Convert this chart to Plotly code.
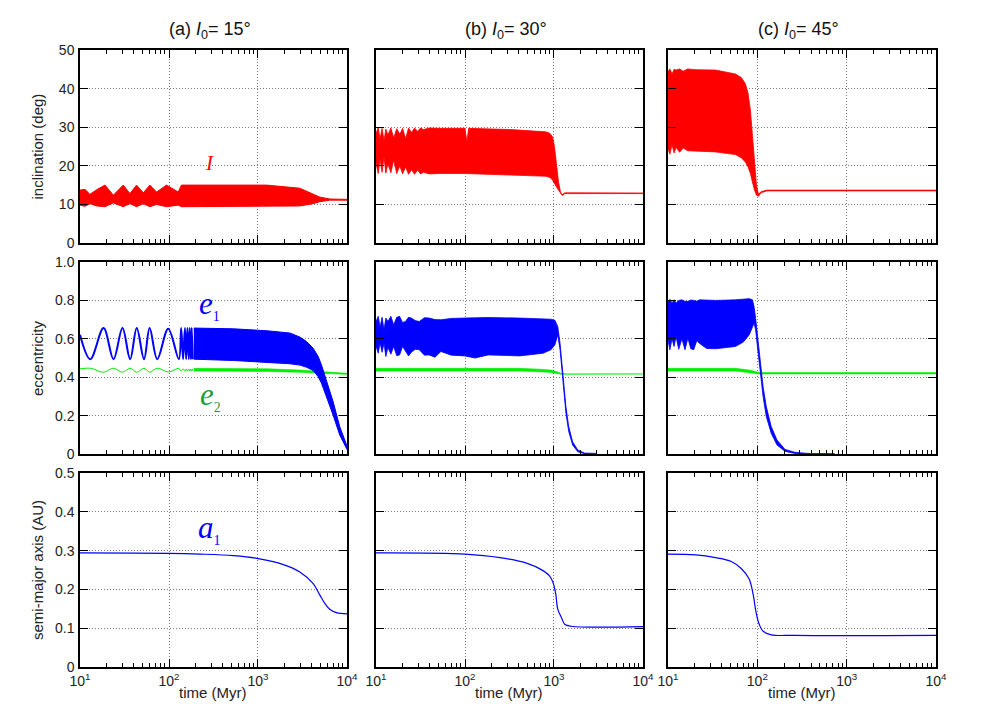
import plotly.graph_objects as go
from plotly.subplots import make_subplots

# ---------------- data ----------------
# Panel (a) I0 = 15 deg
a_inc_t = [10, 11.4, 12.9, 15.4, 19.1, 23.7, 30.6, 36.4, 43.2, 51.4, 61.1, 72.5, 93.9, 127, 138, 313, 1245, 2945, 4160, 4940, 6400, 7600, 10000]
a_inc_hi = [13.7, 13.9, 12.6, 13.8, 15.0, 12.4, 15.0, 12.8, 15.0, 13.0, 15.0, 13.2, 15.0, 13.2, 15.0, 15.0, 15.0, 14.2, 12.8, 11.9, 11.4, 11.35, 11.3]
a_inc_lo = [9.8, 9.5, 10.2, 9.6, 9.4, 10.4, 9.4, 10.2, 9.4, 10.2, 9.4, 10.0, 9.4, 9.8, 9.4, 9.4, 9.5, 9.6, 10.2, 10.7, 11.1, 11.15, 11.1]

a_wave_t = [10, 13.05, 18.4, 23.8, 30.0, 36.6, 43.4, 52.4, 60.6, 73.8, 98.0, 129, 137, 144, 151, 156, 161, 167, 171, 176, 180, 185]
a_e1_wave = [0.621, 0.494, 0.656, 0.494, 0.656, 0.494, 0.656, 0.494, 0.656, 0.494, 0.652, 0.494, 0.656, 0.494, 0.656, 0.494, 0.656, 0.494, 0.656, 0.494, 0.656, 0.494]
a_e2_wave = [0.443, 0.447, 0.426, 0.447, 0.426, 0.447, 0.426, 0.447, 0.426, 0.447, 0.427, 0.446, 0.432, 0.443, 0.432, 0.443, 0.432, 0.443, 0.432, 0.443, 0.432, 0.443]

a_e1_t = [190, 532, 1253, 2286, 2957, 3514, 4170, 4745, 5168, 5877, 6980, 8285, 10000]
a_e1_hi = [0.656, 0.652, 0.642, 0.630, 0.609, 0.586, 0.551, 0.508, 0.464, 0.386, 0.273, 0.143, 0.042]
a_e1_lo = [0.494, 0.487, 0.478, 0.470, 0.463, 0.452, 0.435, 0.403, 0.369, 0.299, 0.203, 0.099, 0.024]

a_e2_t = [190, 1253, 2957, 4745, 6980, 10000]
a_e2_hi = [0.446, 0.444, 0.437, 0.430, 0.423, 0.420]
a_e2_lo = [0.432, 0.430, 0.426, 0.421, 0.417, 0.415]

a_a_t = [10, 95, 225, 532, 970, 1930, 2950, 4170, 4940, 5630, 6400, 7600, 10000]
a_a = [0.294, 0.293, 0.291, 0.287, 0.280, 0.264, 0.245, 0.215, 0.186, 0.164, 0.149, 0.140, 0.137]

# Panel (b) I0 = 30 deg
b_inc_t = [10, 10.6, 11.1, 11.7, 12.3, 12.9, 13.6, 14.7, 15.8, 17.1, 18.5, 19.9, 21.5, 23.2, 25.1, 27.1, 29.3, 31.6, 34.1, 40, 51.3, 99.8, 105, 110, 323, 810, 898, 964, 1014, 1068, 1124, 1183, 1233, 1325, 1497, 10000]
b_inc_hi = [28.4, 29.9, 27.0, 29.7, 26.5, 29.5, 28.0, 29.8, 27.2, 29.6, 28.2, 29.7, 27.0, 29.8, 28.6, 29.8, 28.9, 29.8, 29.4, 29.8, 29.7, 29.7, 26.2, 29.7, 29.4, 28.8, 28.4, 27.5, 24.9, 20.6, 15.8, 13.2, 12.5, 13.0, 13.0, 12.95]
b_inc_lo = [20.6, 18.0, 21.8, 18.3, 22.3, 18.1, 20.5, 18.2, 21.5, 18.0, 20.0, 17.9, 19.7, 17.8, 19.0, 17.8, 18.9, 17.9, 18.3, 17.9, 18.0, 18.0, 18.0, 18.0, 17.6, 17.3, 17.0, 16.3, 15.4, 14.5, 13.7, 12.8, 12.3, 12.8, 12.8, 12.8]

b_e1_t = [10, 10.6, 11.1, 11.7, 12.3, 12.9, 13.6, 14.7, 15.8, 17.1, 18.4, 19.9, 21.4, 23.2, 25, 27.5, 30.6, 35, 39.5, 46, 53.6, 70, 98.6, 130, 182, 410, 755, 925, 1025, 1102, 1170, 1231, 1295, 1362, 1463, 1619, 1848, 2198, 2985]
b_e1_hi = [0.690, 0.717, 0.660, 0.712, 0.647, 0.708, 0.690, 0.717, 0.673, 0.712, 0.717, 0.685, 0.690, 0.712, 0.708, 0.695, 0.690, 0.710, 0.708, 0.700, 0.699, 0.706, 0.708, 0.709, 0.711, 0.708, 0.705, 0.702, 0.696, 0.664, 0.577, 0.473, 0.351, 0.247, 0.143, 0.064, 0.021, 0.005, 0.003]
b_e1_lo = [0.560, 0.525, 0.580, 0.530, 0.577, 0.508, 0.555, 0.520, 0.560, 0.512, 0.516, 0.560, 0.540, 0.511, 0.530, 0.545, 0.543, 0.515, 0.516, 0.504, 0.534, 0.515, 0.511, 0.500, 0.516, 0.511, 0.525, 0.543, 0.569, 0.621, 0.543, 0.438, 0.317, 0.212, 0.117, 0.047, 0.012, 0.002, 0.001]

b_e2_t = [10, 410, 682, 925, 1079, 1194, 1390, 10000]
b_e2_hi = [0.446, 0.446, 0.442, 0.437, 0.429, 0.420, 0.417, 0.417]
b_e2_lo = [0.432, 0.432, 0.428, 0.425, 0.419, 0.416, 0.414, 0.414]

b_a_t = [10, 100, 246, 500, 718, 881, 975, 1050, 1100, 1230, 1320, 1550, 10000]
b_a = [0.294, 0.291, 0.282, 0.267, 0.251, 0.236, 0.218, 0.186, 0.150, 0.124, 0.110, 0.105, 0.104]

# Panel (c) I0 = 45 deg
c_inc_t = [10, 10.5, 11.1, 11.7, 12.3, 13.5, 14.8, 16.6, 20, 34.1, 56.8, 66, 73.4, 78.8, 83.7, 88.1, 92.9, 97.8, 103, 110, 128, 10000]
c_inc_hi = [44.4, 45.1, 43.8, 45.0, 44.8, 45.1, 44.5, 45.1, 44.9, 44.8, 43.8, 42.9, 41.3, 38.8, 34.4, 28.4, 21.5, 15.0, 12.6, 13.3, 13.7, 13.7]
c_inc_lo = [24.5, 23.0, 25.5, 23.3, 24.8, 23.5, 24.6, 23.9, 23.8, 23.6, 22.9, 22.1, 21.0, 19.7, 18.0, 15.8, 13.7, 12.4, 12.1, 13.0, 13.5, 13.5]

c_e1_t = [10, 10.5, 11.1, 11.7, 12.3, 13.2, 14.3, 15.5, 16.7, 18, 19.4, 21, 22.6, 27, 34.1, 56.9, 69.7, 81.3, 88.2, 91.8, 95.7, 99.7, 105, 110, 116, 126, 143, 166, 204, 263, 396, 731]
c_e1_hi = [0.795, 0.805, 0.786, 0.803, 0.786, 0.800, 0.803, 0.795, 0.795, 0.802, 0.800, 0.796, 0.803, 0.800, 0.800, 0.803, 0.805, 0.809, 0.803, 0.769, 0.708, 0.638, 0.543, 0.447, 0.351, 0.247, 0.143, 0.073, 0.024, 0.009, 0.002, 0.001]
c_e1_lo = [0.595, 0.543, 0.600, 0.560, 0.612, 0.545, 0.600, 0.543, 0.603, 0.548, 0.543, 0.590, 0.576, 0.550, 0.548, 0.560, 0.583, 0.621, 0.661, 0.682, 0.647, 0.569, 0.482, 0.386, 0.299, 0.195, 0.108, 0.047, 0.014, 0.003, 0.000, 0.000]

c_e2_t = [10, 56.9, 81.3, 94.7, 105, 10000]
c_e2_hi = [0.446, 0.446, 0.437, 0.428, 0.424, 0.424]
c_e2_lo = [0.432, 0.432, 0.424, 0.419, 0.417, 0.417]

c_a_t = [10, 20.4, 34, 51, 66, 81, 90, 96.6, 105, 116, 143, 263, 10000]
c_a = [0.291, 0.289, 0.282, 0.272, 0.254, 0.227, 0.186, 0.142, 0.110, 0.092, 0.083, 0.0815, 0.0815]

panel_titles = ["(a) <i>I</i><sub>0</sub>= 15°", "(b) <i>I</i><sub>0</sub>= 30°", "(c) <i>I</i><sub>0</sub>= 45°"]
row_titles = ["inclination (deg)", "eccentricity", "semi-major axis (AU)"]
x_title = "time (Myr)"
x_tickvals = [10, 100, 1000, 10000]
x_ticktext = ["10<sup>1</sup>", "10<sup>2</sup>", "10<sup>3</sup>", "10<sup>4</sup>"]
y_ticks = [
    ([0, 10, 20, 30, 40, 50], ["0", "10", "20", "30", "40", "50"], [0, 50]),
    ([0, 0.2, 0.4, 0.6, 0.8, 1.0], ["0", "0.2", "0.4", "0.6", "0.8", "1.0"], [0, 1]),
    ([0, 0.1, 0.2, 0.3, 0.4, 0.5], ["0", "0.1", "0.2", "0.3", "0.4", "0.5"], [0, 0.5]),
]

RED = "#ff0000"
BLUE = "#0000ff"
GREEN = "#00ee00"
LABEL_GREEN = "#1a9e3a"

# ---------------- figure ----------------
fig = make_subplots(rows=3, cols=3)


def band(t, hi, lo, color, row, col, width=1):
    fig.add_trace(go.Scatter(x=list(t) + list(t)[::-1], y=list(hi) + list(lo)[::-1],
                             mode="lines", fill="toself", fillcolor=color,
                             line=dict(color=color, width=width), hoverinfo="skip",
                             showlegend=False), row=row, col=col)


def curve(t, v, color, row, col, width=1.2, shape="spline"):
    fig.add_trace(go.Scatter(x=t, y=v, mode="lines",
                             line=dict(color=color, width=width, shape=shape),
                             showlegend=False), row=row, col=col)


# inclination
band(a_inc_t, a_inc_hi, a_inc_lo, RED, 1, 1)
band(b_inc_t, b_inc_hi, b_inc_lo, RED, 1, 2, width=0.8)
band(c_inc_t, c_inc_hi, c_inc_lo, RED, 1, 3, width=0.8)

# eccentricity
curve(a_wave_t, a_e2_wave, GREEN, 2, 1, width=1)
band(a_e2_t, a_e2_hi, a_e2_lo, GREEN, 2, 1, width=0.6)
curve(a_wave_t, a_e1_wave, BLUE, 2, 1, width=2)
band(a_e1_t, a_e1_hi, a_e1_lo, BLUE, 2, 1)

band(b_e2_t, b_e2_hi, b_e2_lo, GREEN, 2, 2, width=0.6)
band(b_e1_t, b_e1_hi, b_e1_lo, BLUE, 2, 2, width=0.8)

band(c_e2_t, c_e2_hi, c_e2_lo, GREEN, 2, 3, width=0.6)
band(c_e1_t, c_e1_hi, c_e1_lo, BLUE, 2, 3, width=0.8)

# semi-major axis
curve(a_a_t, a_a, BLUE, 3, 1)
curve(b_a_t, b_a, BLUE, 3, 2)
curve(c_a_t, c_a, BLUE, 3, 3)

# ---------------- layout ----------------
x_domains = [[0.0, 0.3119], [0.3458, 0.6577], [0.6869, 1.0]]
y_domains = [[0.6872, 1.0], [0.3452, 0.6564], [0.0, 0.3144]]
minor_vals = [m * 10 ** k for k in range(1, 4) for m in range(2, 10)]
sans = "Liberation Sans, Arial, sans-serif"
tick_font = dict(family=sans, size=14, color="#222")
GRID = dict(showgrid=True, gridcolor="#7a7a7a", griddash="1px,2px", gridwidth=1)

for r in range(3):
    for c in range(3):
        idx = r * 3 + c + 1
        xa = "xaxis" if idx == 1 else f"xaxis{idx}"
        ya = "yaxis" if idx == 1 else f"yaxis{idx}"
        xname = "x" if idx == 1 else f"x{idx}"
        yname = "y" if idx == 1 else f"y{idx}"
        tv, tt, rng = y_ticks[r]
        fig.layout[xa].update(
            domain=x_domains[c], type="log", range=[1, 4],
            tickvals=x_tickvals, ticktext=x_ticktext, showticklabels=(r == 2),
            ticks="inside", ticklen=8, tickwidth=1, tickcolor="black",
            showline=True, linecolor="black", linewidth=1.5, mirror="allticks",
            zeroline=False, tickfont=tick_font, ticklabelstandoff=0,
            minor=dict(tickvals=minor_vals, ticks="inside", ticklen=4,
                       tickcolor="black", tickwidth=1, showgrid=False),
            **GRID,
        )
        fig.layout[ya].update(
            domain=y_domains[r], range=rng, tickvals=tv, ticktext=tt,
            showticklabels=(c == 0),
            ticks="inside", ticklen=8, tickwidth=1, tickcolor="black",
            showline=True, linecolor="black", linewidth=1.5, mirror="allticks",
            zeroline=False, tickfont=tick_font, ticklabelstandoff=1,
            **GRID,
        )
        # top copy of the time axis, carrying the mirrored minor ticks
        fig.layout[f"xaxis{idx + 9}"] = dict(
            overlaying=xname, anchor=yname, side="top", domain=x_domains[c],
            type="log", range=[1, 4], tickvals=x_tickvals, showticklabels=False,
            ticks="inside", ticklen=8, tickwidth=1, tickcolor="black",
            showline=False, showgrid=False, zeroline=False,
            minor=dict(tickvals=minor_vals, ticks="inside", ticklen=4,
                       tickcolor="black", tickwidth=1, showgrid=False),
        )

annotations = []
col_centers = [sum(d) / 2 for d in x_domains]
row_centers = [sum(d) / 2 for d in y_domains]
for c in range(3):
    annotations.append(dict(text=panel_titles[c], xref="paper", yref="paper",
                            x=col_centers[c], y=1.0, yshift=20, xshift=-3,
                            xanchor="center", yanchor="middle", showarrow=False,
                            font=dict(family=sans, size=18, color="#111")))
    annotations.append(dict(text=x_title, xref="paper", yref="paper",
                            x=col_centers[c], y=-0.0421, xanchor="center", yanchor="middle",
                            showarrow=False, font=dict(family=sans, size=15, color="#222")))
for r in range(3):
    annotations.append(dict(text=row_titles[r], xref="paper", yref="paper",
                            x=-0.0502, y=row_centers[r], textangle=-90,
                            xanchor="center", yanchor="middle", showarrow=False,
                            font=dict(family=sans, size=15, color="#222")))

serif = "Liberation Serif, Times New Roman, serif"
annotations += [
    dict(text="<i>I</i>", x=2.459, y=20.6, xref="x", yref="y", showarrow=False,
         font=dict(family=serif, size=21, color=RED)),
    dict(text="<i>e</i><sub><span style='font-size:14px'>1</span></sub>", x=2.46, y=0.775, xref="x4", yref="y4",
         showarrow=False, font=dict(family=serif, size=31, color=BLUE)),
    dict(text="<i>e</i><sub><span style='font-size:14px'>2</span></sub>", x=2.47, y=0.30, xref="x4", yref="y4",
         showarrow=False, font=dict(family=serif, size=31, color=LABEL_GREEN)),
    dict(text="<i>a</i><sub><span style='font-size:14px'>1</span></sub>", x=2.46, y=0.355, xref="x7", yref="y7",
         showarrow=False, font=dict(family=serif, size=31, color=BLUE)),
]

# the page body adds an 8 px margin, so the figure is sized to fit inside it
fig.update_layout(
    width=965, height=707,
    margin=dict(l=72, r=37, t=42, b=48),
    paper_bgcolor="white", plot_bgcolor="white",
    showlegend=False,
    annotations=annotations,
)

fig.write_html("out.html")
